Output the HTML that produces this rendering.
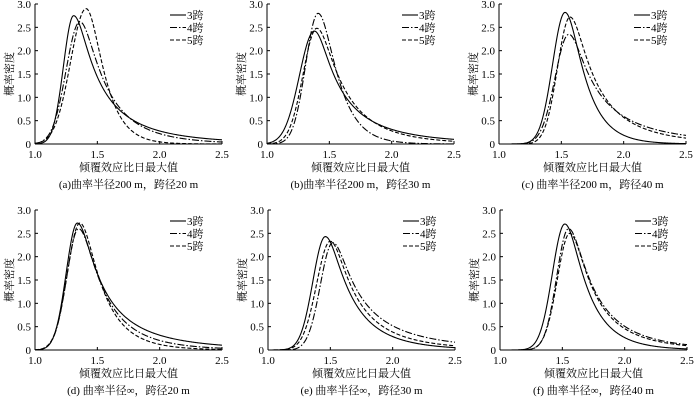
<!DOCTYPE html>
<html><head><meta charset="utf-8"><style>
body{margin:0;background:#fff}
svg{display:block;font-family:"Liberation Serif","Noto Serif CJK SC",serif}
</style></head><body>
<svg id="s" width="700" height="400" viewBox="0 0 700 400"></svg>
<script>
const S=document.getElementById('s');
const NS='http://www.w3.org/2000/svg';
function el(t,a,txt){const e=document.createElementNS(NS,t);for(const k in a)e.setAttribute(k,a[k]);if(txt!==undefined)e.textContent=txt;S.appendChild(e);return e;}
const panels=[
 {x0:35,y0:144,cap:"(a)曲率半径200 m，跨径20 m",c:[[1.31,2.75,.082,.25,1.08],[1.36,2.62,.11,.35,.64],[1.41,2.9,.125,.5,.5]]},
 {x0:267,y0:144,cap:"(b)曲率半径200 m，跨径30 m",c:[[1.38,2.42,.12,.25,1.05],[1.41,2.8,.1,.5,.45],[1.40,2.48,.11,.35,.6]]},
 {x0:499,y0:144,cap:"(c) 曲率半径200 m，跨径40 m",c:[[1.53,2.82,.1,.45,.55],[1.56,2.35,.11,.25,.95],[1.57,2.72,.1,.3,.8]]},
 {x0:35,y0:350,cap:"(d) 曲率半径∞，跨径20 m",c:[[1.34,2.72,.09,.25,1.05],[1.35,2.6,.095,.35,.65],[1.36,2.72,.1,.4,.6]]},
 {x0:268,y0:350,cap:"(e) 曲率半径∞，跨径30 m",c:[[1.46,2.43,.1,.35,.65],[1.52,2.3,.1,.25,.95],[1.50,2.33,.11,.3,.8]]},
 {x0:500,y0:350,cap:"(f) 曲率半径∞，跨径40 m",c:[[1.52,2.7,.1,.4,.6],[1.55,2.6,.095,.3,.8],[1.56,2.5,.1,.3,.85]]}
];
const W=187,H=140,C=0.1;
const dash=["","7,2,1.5,2","4,2"];
panels.forEach(p=>{
 const X=v=>p.x0+(v-1)/1.5*W, Y=v=>p.y0-v/3*H;
 el('line',{x1:p.x0,y1:p.y0-H,x2:p.x0,y2:p.y0,stroke:'#000','stroke-width':1});
 el('line',{x1:p.x0,y1:p.y0,x2:p.x0+W,y2:p.y0,stroke:'#000','stroke-width':1});
 for(let i=0;i<=6;i++){const y=Y(i*0.5);el('line',{x1:p.x0,y1:y,x2:p.x0+3,y2:y,stroke:'#000'});
  el('text',{x:p.x0-4,y:y+4,'text-anchor':'end','font-size':11},i==0?'0':(i*0.5).toFixed(1));}
 for(let i=0;i<=3;i++){const x=X(1+i*0.5);el('line',{x1:x,y1:p.y0,x2:x,y2:p.y0-3,stroke:'#000'});
  el('text',{x:x,y:p.y0+14,'text-anchor':'middle','font-size':11},(1+i*0.5).toFixed(1));}
 el('text',{x:p.x0+W/2,y:p.y0+27,'text-anchor':'middle','font-size':11},'倾覆效应比日最大值');
 el('text',{x:p.x0+W/2,y:p.y0+44,'text-anchor':'middle','font-size':11},p.cap);
 el('text',{x:0,y:0,'text-anchor':'middle','font-size':11,transform:`translate(${p.x0-22},${p.y0-H/2}) rotate(-90)`},'概率密度');
 p.c.forEach((c,k)=>{
  const [m,h,sl,r,k0]=c;const kk=k0/Math.pow(0.06/C,2*r);let d='';
  for(let i=0;i<=300;i++){const x=1+1.5*i/300;let v;
   if(x<m){const u=(m-x)/sl;v=h*Math.exp(-u*u/2);}
   else{const u=(x-m)/C;v=h*Math.exp(-kk*(Math.pow(1+u*u,r)-1));}
   d+=(i?'L':'M')+X(x).toFixed(2)+','+Y(v).toFixed(2);}
  el('path',{d:d,fill:'none',stroke:'#000','stroke-width':1.1,'stroke-dasharray':dash[k]});
  const ly=p.y0-H+11+k*12.5;
  el('line',{x1:p.x0+135,y1:ly,x2:p.x0+151,y2:ly,stroke:'#000','stroke-width':1.1,'stroke-dasharray':dash[k]});
  el('text',{x:p.x0+152,y:ly+4,'font-size':11},(k+3)+'跨');
 });
});
</script>
</body></html>
